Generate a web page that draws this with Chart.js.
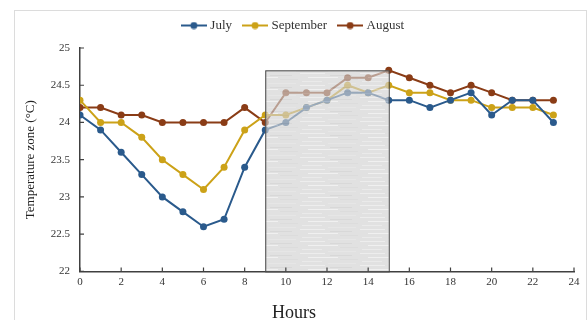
<!DOCTYPE html>
<html>
<head>
<meta charset="utf-8">
<script src="https://cdn.jsdelivr.net/npm/chart.js@4"></script>
<style>
  body { margin: 0; background: #fff; }
  #frame { position: absolute; left: 14px; top: 10px; width: 571px; height: 330px;
           border: 1px solid #dcdcdc; border-bottom: none; }
  #wrap { position: absolute; left: 0; top: 0; width: 588px; height: 320px; }
</style>
</head>
<body>
<div id="frame"></div>
<div id="wrap"><canvas id="tempChart" width="588" height="320"></canvas></div>
<script>
// hours of the day
const hours = [0, 1, 2, 3, 4, 5, 6, 7, 8, 9, 10, 11, 12, 13, 14, 15, 16, 17, 18, 19, 20, 21, 22, 23];
const july = [24.1, 23.9, 23.6, 23.3, 23.0, 22.8, 22.6, 22.7, 23.4, 23.9, 24.0, 24.2, 24.3, 24.4, 24.4, 24.3, 24.3, 24.2, 24.3, 24.4, 24.1, 24.3, 24.3, 24.0];
const september = [24.3, 24.0, 24.0, 23.8, 23.5, 23.3, 23.1, 23.4, 23.9, 24.1, 24.1, 24.2, 24.3, 24.5, 24.4, 24.5, 24.4, 24.4, 24.3, 24.3, 24.2, 24.2, 24.2, 24.1];
const august = [24.2, 24.2, 24.1, 24.1, 24.0, 24.0, 24.0, 24.0, 24.2, 24.0, 24.4, 24.4, 24.4, 24.6, 24.6, 24.7, 24.6, 24.5, 24.4, 24.5, 24.4, 24.3, 24.3, 24.3];
// shaded period (hours) and its top value
const shadeFrom = 9, shadeTo = 15, shadeTop = 24.7;

const serif = "'Liberation Serif', 'Times New Roman', serif";

function pts(arr) {
    return hours.map((h, i) => ({ x: h, y: arr[i] }));
}

// little line + dot icon for the legend
function legendIcon(color) {
    const c = document.createElement('canvas');
    c.width = 26; c.height = 8;
    const g = c.getContext('2d');
    g.strokeStyle = color; g.lineWidth = 2;
    g.beginPath(); g.moveTo(0, 4); g.lineTo(26, 4); g.stroke();
    g.fillStyle = color;
    g.beginPath(); g.arc(13, 4, 3.5, 0, Math.PI * 2); g.fill();
    return c;
}

// streaky grey texture for the shaded box
function shadePattern(g) {
    const c = document.createElement('canvas');
    c.width = 60; c.height = 12;
    const p = c.getContext('2d');
    p.fillStyle = '#d2d2d2';
    p.fillRect(0, 0, 60, 12);
    const streaks = [[0, 1, 25, '#e4e4e4'], [30, 3, 22, '#c4c4c4'], [8, 5, 30, '#e8e8e8'],
                     [40, 7, 18, '#cacaca'], [2, 9, 20, '#dfdfdf'], [28, 11, 28, '#dadada']];
    streaks.forEach(s => { p.fillStyle = s[3]; p.fillRect(s[0], s[1], s[2], 1); });
    return g.createPattern(c, 'repeat');
}

const shadeBox = {
    id: 'shadeBox',
    afterDatasetsDraw(chart) {
        const g = chart.ctx, xs = chart.scales.x, ys = chart.scales.y;
        const x1 = xs.getPixelForValue(shadeFrom), x2 = xs.getPixelForValue(shadeTo);
        const y1 = ys.getPixelForValue(shadeTop), y2 = ys.getPixelForValue(22);
        g.save();
        g.globalAlpha = 0.66;
        g.fillStyle = shadePattern(g);
        g.fillRect(x1, y1, x2 - x1, y2 - y1);
        g.globalAlpha = 1;
        g.strokeStyle = '#444';
        g.lineWidth = 1;
        g.strokeRect(x1 + 0.5, y1 + 0.5, x2 - x1, y2 - y1);
        g.restore();
    }
};

// short tick marks pointing into the plot
const innerTicks = {
    id: 'innerTicks',
    afterDraw(chart) {
        const g = chart.ctx, xs = chart.scales.x, ys = chart.scales.y, a = chart.chartArea;
        g.save();
        g.strokeStyle = '#404040';
        g.lineWidth = 1.2;
        g.beginPath();
        xs.ticks.forEach(t => {
            const px = xs.getPixelForValue(t.value);
            g.moveTo(px, a.bottom); g.lineTo(px, a.bottom - 4);
        });
        ys.ticks.forEach(t => {
            const py = ys.getPixelForValue(t.value);
            g.moveTo(a.left, py); g.lineTo(a.left + 4, py);
        });
        g.stroke();
        g.restore();
    }
};

// a bit more room under the legend
const legendGap = {
    id: 'legendGap',
    beforeInit(chart) {
        const fit = chart.legend.fit;
        chart.legend.fit = function () {
            fit.bind(chart.legend)();
            this.height += 6;
        };
    }
};

const ctx = document.getElementById('tempChart').getContext('2d');
const chart = new Chart(ctx, {
    type: 'line',
    data: {
        datasets: [{
                label: 'July',
                data: pts(july),
                borderColor: 'rgb(42,90,140)',
                backgroundColor: 'rgb(42,90,140)',
            },
            {
                label: 'September',
                data: pts(september),
                borderColor: 'rgb(204,162,24)',
                backgroundColor: 'rgb(204,162,24)',
            },
            {
                label: 'August',
                data: pts(august),
                borderColor: 'rgb(138,60,22)',
                backgroundColor: 'rgb(138,60,22)',
            },
        ]
    },
    options: {
        responsive: false,
        animation: false,
        elements: {
            line: { borderWidth: 2, tension: 0 },
            point: { radius: 3.5, borderWidth: 0 }
        },
        layout: { padding: { left: 14, right: 14, top: 6, bottom: 0 } },
        plugins: {
            legend: {
                position: 'top',
                labels: {
                    usePointStyle: true,
                    pointStyleWidth: 20,
                    color: '#333',
                    font: { family: serif, size: 13 },
                    padding: 13,
                    generateLabels(ch) {
                        return ch.data.datasets.map((d, i) => ({
                            text: d.label,
                            pointStyle: legendIcon(d.borderColor),
                            fontColor: '#333',
                            strokeStyle: d.borderColor,
                            fillStyle: d.borderColor,
                            lineWidth: 0,
                            datasetIndex: i
                        }));
                    }
                }
            },
            title: {
                display: true,
                position: 'bottom',
                text: 'Hours',
                color: '#222',
                font: { family: serif, size: 18, weight: 'normal', lineHeight: 0.7 },
                padding: { top: 4, bottom: 0 }
            },
            tooltip: { enabled: false }
        },
        scales: {
            x: {
                type: 'linear',
                min: 0,
                max: 24,
                ticks: { stepSize: 2, color: '#333', font: { family: serif, size: 11 }, padding: 4 },
                grid: { display: false, drawTicks: false },
                border: { color: '#404040', width: 1.5 },
                afterFit(s) { s.height = 32; }
            },
            y: {
                min: 22,
                max: 25,
                ticks: {
                    stepSize: 0.5, color: '#333', font: { family: serif, size: 11 }, padding: 10,
                    callback: v => String(v)
                },
                grid: { display: false, drawTicks: false },
                border: { color: '#404040', width: 1.5 },
                title: {
                    display: true,
                    text: 'Temperature zone (°C)',
                    color: '#222',
                    font: { family: serif, size: 13 },
                    padding: { top: 9, bottom: 6 }
                },
                afterFit(s) { s.width = 66; }
            }
        }
    },
    plugins: [shadeBox, innerTicks, legendGap]
});
</script>
</body>
</html>
